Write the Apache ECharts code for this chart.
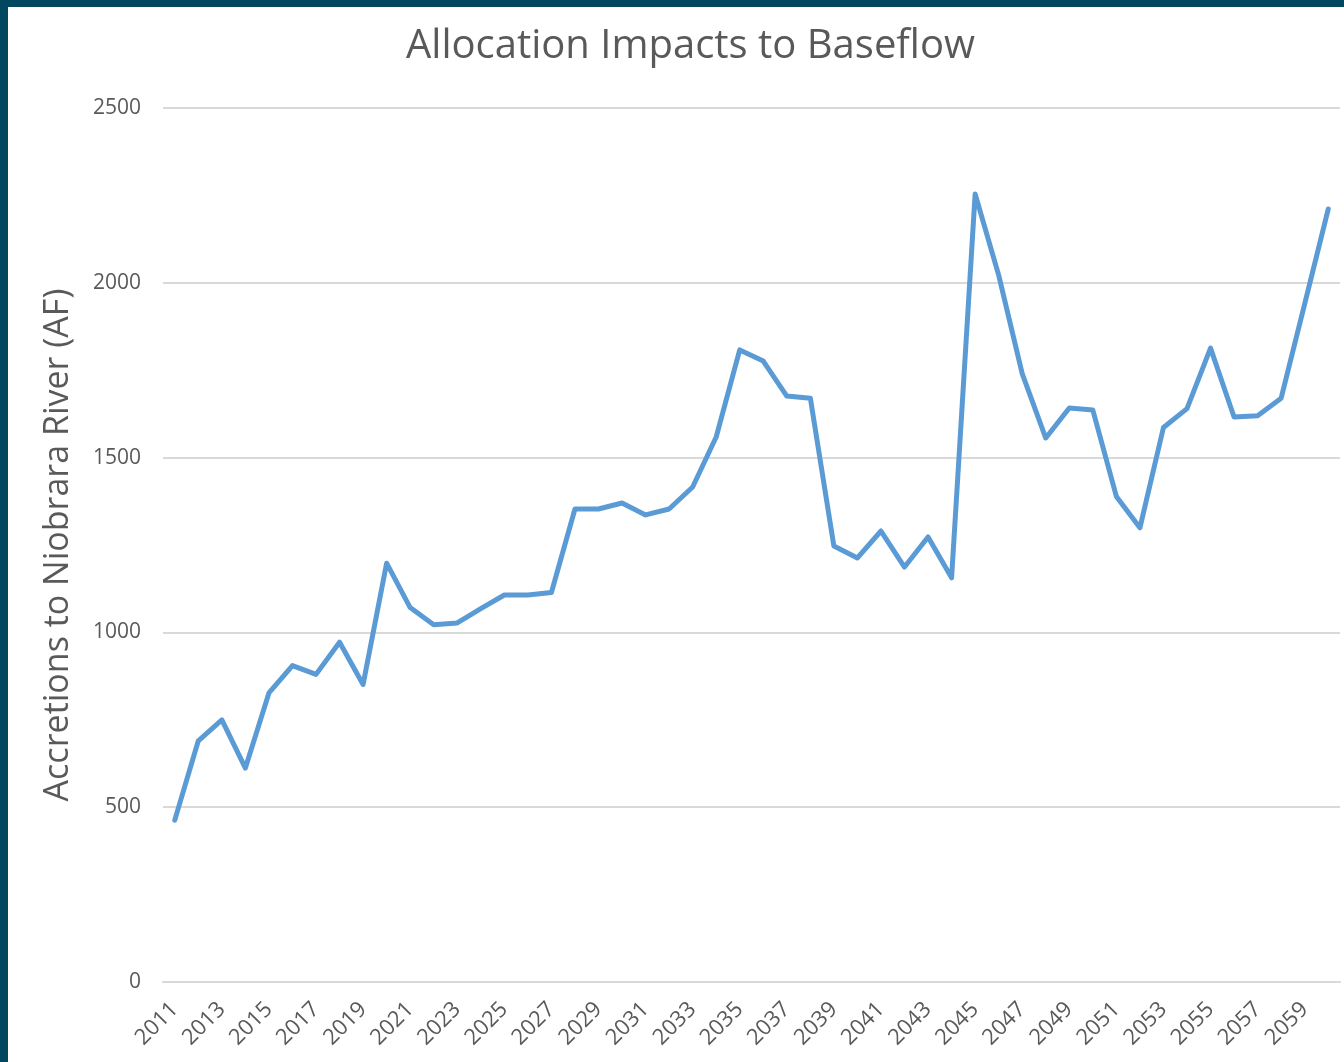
<!DOCTYPE html>
<html>
<head>
<meta charset="utf-8">
<script src="https://cdn.jsdelivr.net/npm/echarts@6/dist/echarts.min.js"></script>
<style>
html,body{margin:0;padding:0;background:#fff;}
#frame{width:1344px;height:1062px;box-sizing:border-box;border-top:7px solid #00475f;border-left:8px solid #00475f;background:#fff;}
#chart{width:1336px;height:1055px;}
</style>
</head>
<body>
<div id="frame"><div id="chart"></div></div>
<script>
const titleText = 'Allocation Impacts to Baseflow';
const yAxisName = 'Accretions to Niobrara River (AF)';
const years = [];
for (let y = 2011; y <= 2060; y++) years.push(String(y));
const baseflow = [463, 690, 750, 612, 827, 905, 880, 972, 851, 1198,
  1071, 1022, 1027, 1068, 1107, 1107, 1114, 1353, 1353, 1370,
  1336, 1353, 1416, 1559, 1808, 1776, 1676, 1670, 1247, 1213,
  1290, 1187, 1273, 1156, 2254, 2022, 1740, 1556, 1642, 1636,
  1389, 1299, 1586, 1640, 1813, 1616, 1620, 1670, 1940, 2211];
const yTicks = {min: 0, max: 2500, interval: 500};

const chart = echarts.init(document.getElementById('chart'));
chart.setOption({
  animation: false,
  title: {
    text: titleText, left: 393, top: 15,
    textStyle: {fontFamily: 'Open Sans', fontSize: 40, fontWeight: 'normal', color: '#595959'}
  },
  grid: {left: 155, right: 4, top: 101, bottom: 80},
  xAxis: {
    type: 'category', data: years, boundaryGap: true,
    axisLine: {lineStyle: {color: '#d9d9d9', width: 2}},
    axisTick: {show: false},
    axisLabel: {interval: 1, rotate: 45, fontFamily: 'Open Sans', fontSize: 22, color: '#595959', margin: 24}
  },
  yAxis: {
    type: 'value', min: yTicks.min, max: yTicks.max, interval: yTicks.interval,
    name: yAxisName, nameLocation: 'middle', nameGap: 88,
    nameTextStyle: {fontFamily: 'Open Sans', fontSize: 34, color: '#595959'},
    axisLine: {show: false}, axisTick: {show: false},
    axisLabel: {fontFamily: 'Open Sans', fontSize: 21, color: '#595959', margin: 22, formatter: v => String(v)},
    splitLine: {lineStyle: {color: '#d9d9d9', width: 2}}
  },
  series: [{
    type: 'line', data: baseflow, symbol: 'none',
    lineStyle: {color: '#5b9bd5', width: 5, join: 'round', cap: 'round'}
  }]
});
</script>
</body>
</html>
